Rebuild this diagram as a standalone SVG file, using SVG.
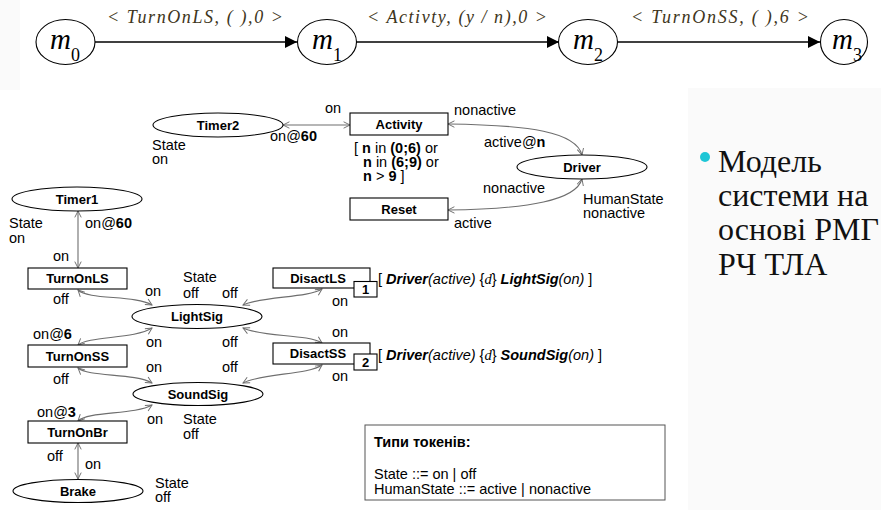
<svg xmlns="http://www.w3.org/2000/svg" width="881" height="510" viewBox="0 0 881 510">
<style>
.st{fill:#fff;stroke:#000;stroke-width:1.1}
.nl{font-family:"Liberation Sans",Arial,sans-serif;font-size:13px;font-weight:bold;text-anchor:middle;fill:#000}
.lb{font-family:"Liberation Sans",Arial,sans-serif;font-size:14.5px;fill:#000}
.b{font-weight:bold}
.i{font-style:italic}
.con{fill:none;stroke:#6e6e6e;stroke-width:1.1;marker-start:url(#oa);marker-end:url(#oa)}
.top{stroke:#000;stroke-width:1.6;marker-end:url(#fa)}
.mt{font-family:"Liberation Serif","Times New Roman",serif;font-style:italic;fill:#000}
.sub{font-style:normal}
.tl{font-family:"Liberation Serif","Times New Roman",serif;font-style:italic;font-size:18px;fill:#3e3520;text-anchor:middle}
.uk{font-family:"Liberation Serif","Times New Roman",serif;font-size:32px;fill:#111}
</style>
<defs>
<marker id="oa" viewBox="0 0 10 10" refX="9" refY="5" markerWidth="8" markerHeight="8" markerUnits="userSpaceOnUse" orient="auto-start-reverse">
<path d="M1,1 L9,5 L1,9" fill="none" stroke="#6e6e6e" stroke-width="1.2"/>
</marker>
<marker id="fa" viewBox="0 0 10 10" refX="10" refY="5" markerWidth="14" markerHeight="12" markerUnits="userSpaceOnUse" orient="auto">
<path d="M0,0 L10,5 L0,10 z" fill="#000"/>
</marker>
</defs>
<rect width="881" height="510" fill="#fff"/>
<rect x="0" y="0" width="20" height="90" fill="#fafafa"/>
<rect x="688" y="88" width="193" height="422" fill="#fafafa"/>

<!-- top row: reachability -->
<g id="top-connectors">
<line class="top" x1="95" y1="42" x2="297" y2="42"/>
<line class="top" x1="357" y1="42" x2="559" y2="42"/>
<line class="top" x1="618" y1="42" x2="820" y2="42"/>
<text class="tl" x="195" y="23" textLength="176" lengthAdjust="spacing">&lt; TurnOnLS, ( ),0 &gt;</text>
<text class="tl" x="457" y="23" textLength="180" lengthAdjust="spacing">&lt; Activty, (y / n),0 &gt;</text>
<text class="tl" x="720" y="23" textLength="178" lengthAdjust="spacing">&lt; TurnOnSS, ( ),6 &gt;</text>
</g>
<g id="m0"><ellipse cx="65.5" cy="42" rx="29.5" ry="22.5" class="st"/><text class="mt" x="50" y="49" font-size="29">m<tspan class="sub" font-size="18" dy="12">0</tspan></text></g>
<g id="m1"><ellipse cx="327" cy="42" rx="29.5" ry="22.5" class="st"/><text class="mt" x="312" y="49" font-size="29">m<tspan class="sub" font-size="18" dy="12">1</tspan></text></g>
<g id="m2"><ellipse cx="588" cy="42" rx="29.5" ry="22.5" class="st"/><text class="mt" x="573" y="49" font-size="29">m<tspan class="sub" font-size="18" dy="12">2</tspan></text></g>
<g id="m3"><ellipse cx="844" cy="42" rx="23.5" ry="22.5" class="st"/><text class="mt" x="832" y="49" font-size="29">m<tspan class="sub" font-size="18" dy="12">3</tspan></text></g>

<!-- Petri net connectors -->
<g id="connectors">
<line class="con" x1="283" y1="125" x2="350" y2="125"/>
<path class="con" d="M448,124 C530,125 576,132 582,155"/>
<path class="con" d="M582,179 C576,200 530,209 448,210"/>
<line class="con" x1="78" y1="211" x2="78" y2="268"/>
<path class="con" d="M78,290 C88,300 135,295 152,305"/>
<path class="con" d="M243,305 C262,296 308,298 322,289"/>
<path class="con" d="M243,328 C262,337 308,334 322,343"/>
<path class="con" d="M78,345 C88,336 135,339 152,328"/>
<path class="con" d="M78,368 C88,377 135,373 152,383"/>
<path class="con" d="M243,383 C262,373 308,375 322,365"/>
<path class="con" d="M152,405 C135,415 88,411 78,421"/>
<line class="con" x1="78" y1="443" x2="78" y2="479"/>
</g>

<!-- nodes -->
<g id="Timer2"><ellipse cx="218" cy="125" rx="65" ry="12" class="st"/><text class="nl" x="218" y="129.5">Timer2</text></g>
<g id="Activity"><rect x="350" y="113" width="98" height="22" class="st"/><text class="nl" x="399" y="128.5">Activity</text></g>
<g id="Reset"><rect x="350" y="198" width="98" height="22" class="st"/><text class="nl" x="399" y="213.5">Reset</text></g>
<g id="Driver"><ellipse cx="582" cy="167" rx="65" ry="12" class="st"/><text class="nl" x="582" y="171.5">Driver</text></g>
<g id="Timer1"><ellipse cx="77" cy="199" rx="65" ry="12" class="st"/><text class="nl" x="77" y="203.5">Timer1</text></g>
<g id="TurnOnLS"><rect x="28" y="268" width="99" height="21" class="st"/><text class="nl" x="77.5" y="283">TurnOnLS</text></g>
<g id="LightSig"><ellipse cx="197" cy="316.5" rx="65" ry="12" class="st"/><text class="nl" x="197" y="321">LightSig</text></g>
<g id="DisactLS"><rect x="273" y="268" width="97" height="20" class="st"/><text class="nl" x="318" y="283">DisactLS</text><rect x="354" y="281.5" width="23" height="15.5" class="st"/><text class="nl" x="365.5" y="294">1</text></g>
<g id="DisactSS"><rect x="273" y="343" width="97" height="21" class="st"/><text class="nl" x="318" y="358">DisactSS</text><rect x="354" y="354" width="23" height="16" class="st"/><text class="nl" x="365.5" y="367">2</text></g>
<g id="TurnOnSS"><rect x="28" y="345" width="99" height="22" class="st"/><text class="nl" x="77.5" y="360.5">TurnOnSS</text></g>
<g id="SoundSig"><ellipse cx="198" cy="394" rx="65" ry="11.5" class="st"/><text class="nl" x="198" y="398.5">SoundSig</text></g>
<g id="TurnOnBr"><rect x="28" y="421" width="99" height="22" class="st"/><text class="nl" x="77.5" y="436.5">TurnOnBr</text></g>
<g id="Brake"><ellipse cx="78" cy="491" rx="65" ry="11.5" class="st"/><text class="nl" x="78" y="495.5">Brake</text></g>

<!-- labels -->
<g id="labels" class="lb">
<text x="152" y="150">State</text><text x="152" y="164">on</text>
<text x="325" y="113">on</text>
<text x="270" y="141">on@<tspan class="b">60</tspan></text>
<text x="354" y="153">[ <tspan class="b">n</tspan> in <tspan class="b">(0;6)</tspan> or</text>
<text x="363" y="167"><tspan class="b">n</tspan> in <tspan class="b">(6;9)</tspan> or</text>
<text x="363" y="181"><tspan class="b">n</tspan> &gt; <tspan class="b">9</tspan> ]</text>
<text x="454" y="115">nonactive</text>
<text x="484" y="147">active@<tspan class="b">n</tspan></text>
<text x="483" y="193">nonactive</text>
<text x="454" y="228">active</text>
<text x="583" y="204">HumanState</text>
<text x="583" y="218">nonactive</text>

<text x="9" y="228">State</text><text x="9" y="243">on</text>
<text x="85" y="228">on@<tspan class="b">60</tspan></text>
<text x="53" y="261">on</text>
<text x="53" y="304">off</text>
<text x="145" y="296">on</text>
<text x="183" y="282">State</text>
<text x="183" y="298">off</text>
<text x="222" y="298">off</text>
<text x="332" y="306">on</text>
<text x="332" y="337">on</text>
<text x="33" y="339">on@<tspan class="b">6</tspan></text>
<text x="146" y="347">on</text>
<text x="222" y="347">off</text>
<text x="146" y="372">on</text>
<text x="222" y="372">off</text>
<text x="53" y="384">off</text>
<text x="332" y="381">on</text>
<text x="37" y="417">on@<tspan class="b">3</tspan></text>
<text x="147" y="424">on</text>
<text x="183" y="424">State</text>
<text x="183" y="439">off</text>
<text x="47" y="461">off</text>
<text x="85" y="469">on</text>
<text x="155" y="488">State</text>
<text x="155" y="502">off</text>

<text x="378" y="284">[ <tspan class="b i">Driver</tspan><tspan class="i">(active)</tspan> {<tspan class="i" font-family="Liberation Serif">d</tspan>} <tspan class="b i">LightSig</tspan><tspan class="i">(on)</tspan> ]</text>
<text x="378" y="360">[ <tspan class="b i">Driver</tspan><tspan class="i">(active)</tspan> {<tspan class="i" font-family="Liberation Serif">d</tspan>} <tspan class="b i">SoundSig</tspan><tspan class="i">(on)</tspan> ]</text>
</g>

<!-- token types legend -->
<g id="legend">
<rect x="365" y="425" width="300" height="75" fill="#fff" stroke="#555" stroke-width="1"/>
<text class="lb b" x="374" y="447" font-size="15">Типи токенів:</text>
<text class="lb" x="374" y="479" font-size="15">State ::= on | off</text>
<text class="lb" x="374" y="494" font-size="15">HumanState ::= active | nonactive</text>
</g>

<!-- side text -->
<g id="side-text">
<circle cx="705" cy="157" r="5" fill="#1ec6d6"/>
<text class="uk" x="718" y="172">Модель</text>
<text class="uk" x="718" y="206">системи на</text>
<text class="uk" x="718" y="240">основі РМГ</text>
<text class="uk" x="718" y="275">РЧ ТЛА</text>
</g>
</svg>
